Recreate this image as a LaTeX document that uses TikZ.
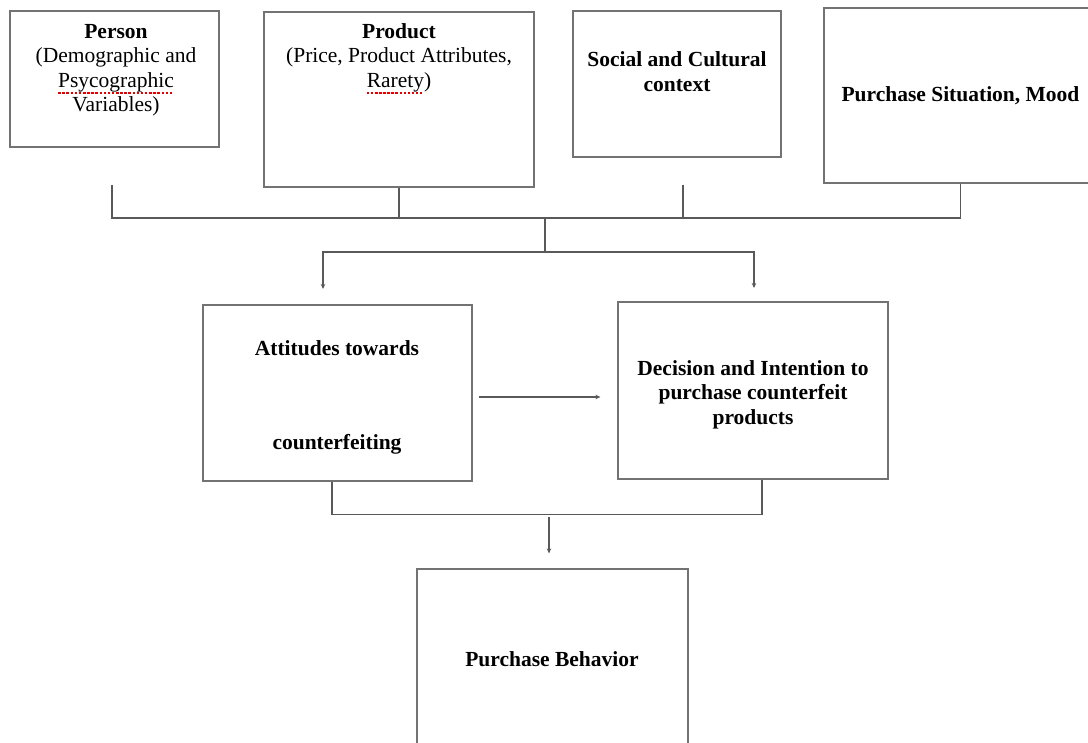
\documentclass[tikz,border=0pt]{standalone}
\usepackage{fontspec}
\setmainfont{Liberation Serif}
\usetikzlibrary{arrows.meta}

\newcommand\spellmark[1]{\setbox0\hbox{#1}\rlap{\raisebox{-0.3em}{\textcolor{red!90!black}{\xleaders\hbox{\rule{2.5pt}{1.5pt}\kern1.5pt}\hskip\wd0}}}\box0}

\begin{document}
\begin{tikzpicture}[x=1pt, y=-1pt, >={Stealth[length=5pt,width=4.5pt]},
    box/.style={draw=black!55, line width=1.2pt, rectangle, inner sep=0pt},
    txt/.style={align=center, font=\fontsize{21.5}{24.5}\selectfont, inner sep=0pt},
    link/.style={draw=black!65, line width=1.3pt}]
    \useasboundingbox (0,0) rectangle (1088,743);
    \clip (0,0) rectangle (1088,743);

    % influencing factors
    \node[box, minimum width=209pt, minimum height=136pt] (person) at (114.5,79) {};
    \node[box, minimum width=270pt, minimum height=175pt] (product) at (399,99.5) {};
    \node[box, minimum width=208pt, minimum height=146pt] (social) at (677,84) {};
    \node[box, minimum width=273pt, minimum height=175pt] (mood) at (960.5,95.5) {};

    \node[txt] (persontxt) at (116,70.5)
        {\textbf{Person}\\(Demographic and\\\spellmark{Psycographic}\\Variables)};
    \node[txt] (producttxt) at (399,58.5)
        {\textbf{Product}\\(Price, Product Attributes,\\\spellmark{Rarety})};
    \node[txt] (socialtxt) at (677,71.5) {\textbf{Social and Cultural}\\\textbf{context}};
    \node[txt] (moodtxt) at (960.5,96) {\textbf{Purchase Situation, Mood}};

    % attitude and intention
    \node[box, minimum width=269pt, minimum height=176pt] (attitudes) at (337.5,393) {};
    \node[box, minimum width=270pt, minimum height=177pt] (decision) at (753,390.5) {};
    \node[txt] (attitudestxt) at (337,397)
        {\textbf{Attitudes towards}\\[69.5pt]\textbf{counterfeiting}};
    \node[txt] (decisiontxt) at (753,394.5)
        {\textbf{Decision and Intention to}\\\textbf{purchase counterfeit}\\\textbf{products}};

    % behaviour
    \node[box, minimum width=271pt, minimum height=200pt] (behavior) at (552.5,669) {};
    \node[txt] (behaviortxt) at (552,659) {\textbf{Purchase Behavior}};

    % connectors
    \coordinate (personstub) at (112,185);
    \coordinate (socialstub) at (683,185);
    \coordinate (join) at (545,218);
    \coordinate (fork) at (545,252);
    \coordinate (toatt) at (323,289);
    \coordinate (todec) at (754,288);
    \coordinate (merge) at (549,517);

    \draw[link] (personstub) -- (personstub |- join) -- (mood.south |- join) -- (mood.south);
    \draw[link] (product.south) -- (product.south |- join);
    \draw[link] (socialstub) -- (socialstub |- join);
    \draw[link] (join) -- (fork);
    \draw[link,->] (fork) -| (toatt);
    \draw[link,->] (fork) -| (todec);

    \draw[link,->] ([shift={(6,4)}]attitudes.east) -- ([shift={(-17,6.5)}]decision.west);

    \draw[link] ([xshift=-5.5pt]attitudes.south) -- ++(0,33) -| ([xshift=9pt]decision.south);
    \draw[link,->] (merge) -- ([shift={(-3.5,-15)}]behavior.north);
\end{tikzpicture}
\end{document}
